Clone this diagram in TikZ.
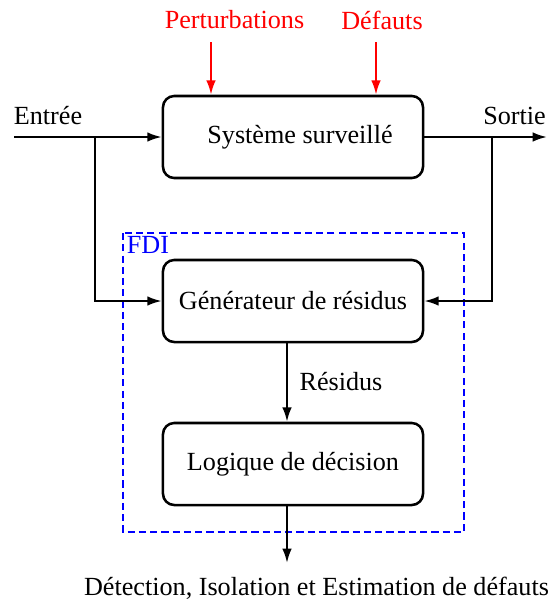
\documentclass[tikz,border=0pt]{standalone}
\usepackage{fontspec}
\setmainfont{Liberation Serif}
\usetikzlibrary{arrows.meta,positioning}

\begin{document}
\begin{tikzpicture}[x=0.025cm,y=-0.025cm,
    font=\fontsize{18.6}{22}\selectfont,
    >={Latex[length=3.6mm,width=2.4mm]},
    bloc/.style={draw, rounded corners=8pt, line width=1.8pt, minimum width=6.5cm, minimum height=2.05cm},
    fleche/.style={->, line width=1.5pt}]
    \useasboundingbox (0,0) rectangle (552,606);
    % blocs
    \node[bloc] at (293,137) (sys) {\hspace{10pt}Système surveillé};
    \node[bloc] at (293,301) (gen) {Générateur de résidus};
    \node[bloc] at (293,464) (dec) {Logique de décision};
    % textes
    \node[red] at (234.5,20) (pert) {Perturbations};
    \node[red] at (382,20) (def) {Défauts};
    \node at (48,116) (entree) {Entrée};
    \node at (514.5,116) (sortie) {Sortie};
    \node at (341,382) (res) {Résidus};
    \node at (316.5,588) (fdie) {Détection, Isolation et Estimation de défauts};
    % cadre FDI
    \draw[blue, line width=1.5pt, dash pattern=on 5pt off 3pt] (123,233) rectangle (464,532);
    \node[blue] at (148,245) (fdi) {FDI};
    % points
    \coordinate (in) at (14,137);
    \coordinate (out) at (547,137);
    \coordinate (b1) at (95,137);
    \coordinate (b2) at (492,137);
    \coordinate (p1) at (211,42);
    \coordinate (d1) at (376,42);
    \coordinate (fin) at (287,563);
    % fleches
    \draw[fleche, red] (p1) -- (p1 |- sys.north);
    \draw[fleche, red] (d1) -- (d1 |- sys.north);
    \draw[fleche] (in) -- (sys.west);
    \draw[fleche] (sys.east) -- (out);
    \draw[fleche] (b1) |- (gen.west);
    \draw[fleche] (b2) |- (gen.east);
    \draw[fleche] (gen.south -| fin) -- (dec.north -| fin);
    \draw[fleche] (dec.south -| fin) -- (fin);
\end{tikzpicture}
\end{document}
